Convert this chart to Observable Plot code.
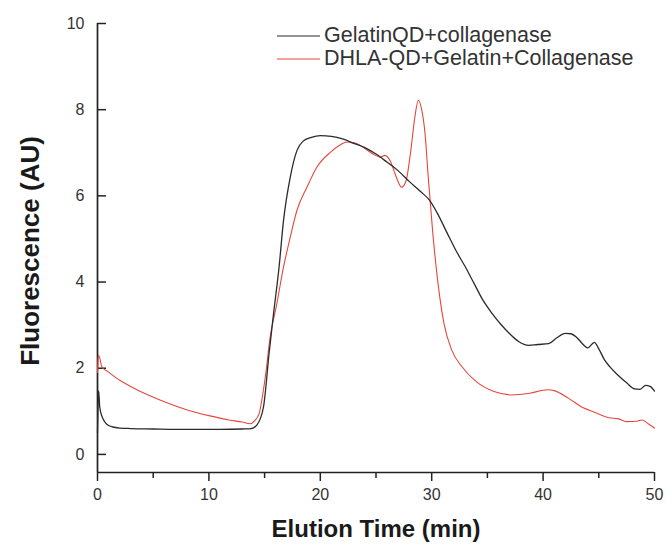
<!DOCTYPE html>
<html><head><meta charset="utf-8">
<script src="https://cdn.jsdelivr.net/npm/d3@7"></script>
<script src="https://cdn.jsdelivr.net/npm/@observablehq/plot@0.6"></script>
<style>
body{margin:0;background:#fff;font-family:"Liberation Sans",Arial,sans-serif;}
#wrap{position:relative;width:668px;height:556px;}
#legend{position:absolute;left:277px;top:24px;font-size:21.5px;color:#333;line-height:23px;}
.row{display:flex;align-items:center;height:23px;white-space:nowrap;}
.row svg{margin-right:4px;display:block}
</style></head><body><div id="wrap"><div id="legend"></div></div>
<script>
const seriesNames = ["GelatinQD+collagenase", "DHLA-QD+Gelatin+Collagenase"];
const seriesColors = ["#2b2b2b", "#e5473d"];
const xDomain = [0, 50];
const yDomain = [-0.42, 10];
const xMajorTicks = [0, 10, 20, 30, 40, 50];
const xMinorTicks = [5, 15, 25, 35, 45];
const yTicks = [0, 2, 4, 6, 8, 10];
const xTitle = "Elution Time (min)";
const yTitle = "Fluorescence (AU)";

const blackT = [0, 0.05, 0.1, 0.2, 0.42, 0.7, 1.0, 1.5, 2.0, 3, 5, 7, 9, 11, 13, 13.8, 14.3, 14.9, 15.4, 15.8, 16.3, 16.7, 17.3, 17.9, 18.5, 19.2, 20.0, 21.0, 22.0, 23.0, 24.0, 25.0, 26.0, 27.0, 28.0, 29.0, 29.8, 30.5, 31.4, 32.2, 33.0, 33.8, 34.6, 35.4, 36.2, 37.0, 37.8, 38.7, 39.5, 40.5, 41.2, 42.0, 42.5, 43.0, 43.6, 44.0, 44.6, 45.0, 45.5, 46.0, 46.8, 47.5, 48.2, 48.7, 49.2, 49.6, 50];
const blackV = [0.5, 1.2, 1.48, 1.1, 0.87, 0.74, 0.67, 0.63, 0.61, 0.6, 0.59, 0.58, 0.58, 0.58, 0.59, 0.6, 0.68, 1.1, 2.34, 3.26, 4.35, 5.43, 6.43, 7.05, 7.28, 7.36, 7.4, 7.38, 7.32, 7.22, 7.12, 6.97, 6.78, 6.58, 6.33, 6.1, 5.9, 5.6, 5.13, 4.72, 4.36, 3.97, 3.58, 3.28, 3.02, 2.8, 2.62, 2.53, 2.55, 2.57, 2.7, 2.81, 2.8, 2.72, 2.55, 2.47, 2.6, 2.45, 2.2, 2.03, 1.82, 1.66, 1.52, 1.51, 1.6, 1.58, 1.47];

const redT = [0, 0.05, 0.1, 0.4, 1.0, 2.0, 2.8, 4.6, 6.4, 8.2, 10.0, 11.8, 13.0, 13.7, 14.1, 14.5, 15.1, 15.5, 16.1, 16.7, 17.3, 17.9, 18.8, 19.7, 20.9, 21.7, 22.4, 23.2, 24.0, 24.8, 25.4, 25.8, 26.3, 26.8, 27.3, 27.7, 28.1, 28.5, 28.8, 29.1, 29.4, 29.7, 30.1, 30.6, 31.1, 31.8, 32.7, 34.0, 35.6, 37.2, 38.8, 40.4, 41.0, 42.3, 43.6, 44.6, 45.9, 46.7, 47.5, 48.4, 48.9, 49.5, 50];
const redV = [1.9, 2.2, 2.3, 2.03, 1.91, 1.72, 1.6, 1.37, 1.18, 1.02, 0.9, 0.8, 0.75, 0.71, 0.78, 0.94, 1.87, 2.72, 3.5, 4.35, 5.04, 5.66, 6.2, 6.67, 7.01, 7.17, 7.25, 7.22, 7.1, 6.96, 6.9, 6.94, 6.8, 6.45, 6.2, 6.35, 7.0, 7.85, 8.22, 8.0, 7.45, 6.4, 5.13, 3.9, 3.04, 2.42, 2.04, 1.69, 1.46, 1.38, 1.42, 1.5, 1.48, 1.3, 1.08, 0.98, 0.85, 0.83, 0.76, 0.77, 0.8, 0.7, 0.61];

const blackRows = blackT.map((t, i) => ({t, v: blackV[i]}));
const redRows = redT.map((t, i) => ({t, v: redV[i]}));

const W = 668, H = 556, mL = 97, mR = 14, mT = 23, mB = 84;
const axisColor = "#222";

const plot = Plot.plot({
  width: W, height: H,
  marginLeft: mL, marginRight: mR, marginTop: mT, marginBottom: mB,
  style: {fontFamily: "'Liberation Sans', Arial, sans-serif", fontSize: "16px", color: "#333", background: "transparent"},
  x: {domain: xDomain},
  y: {domain: yDomain},
  marks: [
    Plot.axisX({ticks: xMajorTicks, tickSize: 9, tickPadding: 7, tickFormat: d => String(d), label: null, stroke: axisColor, strokeWidth: 1.5, fontSize: 16, fill: "#333"}),
    Plot.axisX({ticks: xMinorTicks, tickSize: 6, tickFormat: () => "", label: null, stroke: axisColor, strokeWidth: 1.5}),
    Plot.axisY({ticks: yTicks, tickSize: 0, tickPadding: 13, tickFormat: d => String(d), label: null, fontSize: 16, fill: "#333"}),
    Plot.tickY(yTicks, {y: d => d, insetRight: W - mL - mR - 9, stroke: axisColor, strokeWidth: 1.5}),
    Plot.ruleX([xDomain[0]], {stroke: axisColor, strokeWidth: 1.7}),
    Plot.ruleY([yDomain[0]], {stroke: axisColor, strokeWidth: 1.7}),
    Plot.line(redRows, {x: "t", y: "v", stroke: seriesColors[1], strokeWidth: 1.1, curve: "monotone-x"}),
    Plot.line(blackRows, {x: "t", y: "v", stroke: seriesColors[0], strokeWidth: 1.3, curve: "monotone-x"}),
    Plot.text([xTitle], {frameAnchor: "bottom", dy: 57, textAnchor: "middle", lineAnchor: "middle", text: d => d, fontSize: 24, fontWeight: "bold", fill: "#1a1a1a"}),
    Plot.text([yTitle], {frameAnchor: "left", dx: -67, dy: 3, rotate: -90, textAnchor: "middle", lineAnchor: "middle", text: d => d, fontSize: 26, fontWeight: "bold", fill: "#1a1a1a"})
  ]
});
document.getElementById("wrap").prepend(plot);

const legend = document.getElementById("legend");
seriesNames.forEach((name, i) => {
  const row = document.createElement("div");
  row.className = "row";
  row.innerHTML = `<svg width="43" height="4"><line x1="0" y1="2" x2="43" y2="2" stroke="${seriesColors[i]}" stroke-width="1"/></svg><span>${name}</span>`;
  legend.appendChild(row);
});
</script>
</body></html>
